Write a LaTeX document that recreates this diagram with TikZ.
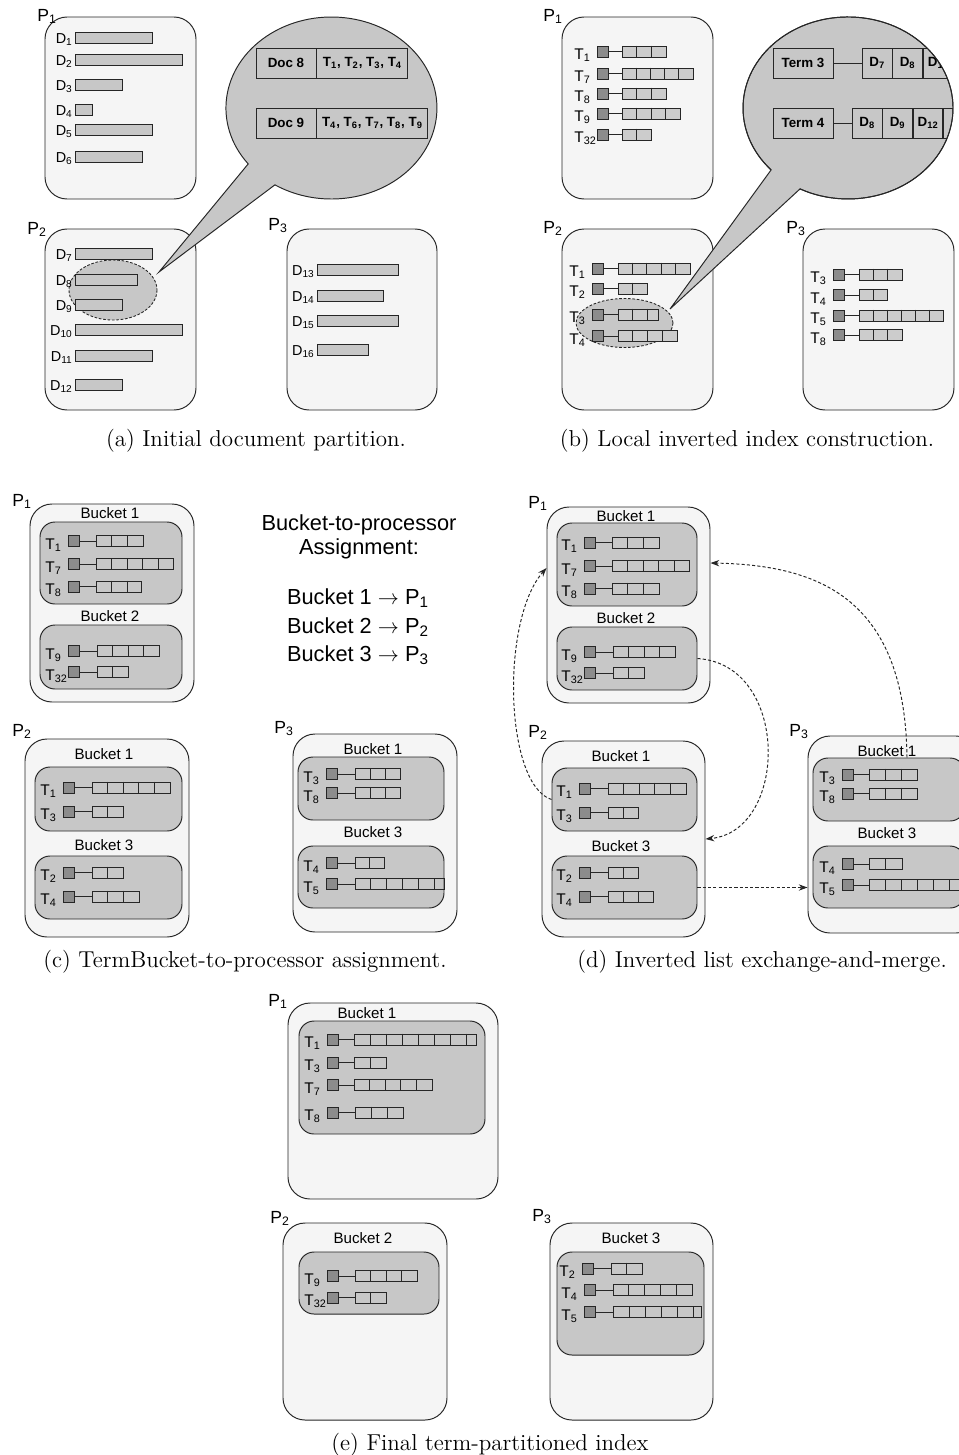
\documentclass[tikz,border=0pt]{standalone}
\usepackage{fontspec}
\newfontfamily\hv{Liberation Sans}
\usetikzlibrary{fit,arrows.meta}

\def\px{0.02cm}

\tikzset{
  proc/.style={draw=black!85, fill=black!4, line width=0.55pt, rounded corners=0.44cm, inner sep=0pt},
  bucket/.style={draw=black!85, fill=black!22, line width=0.55pt, rounded corners=0.3cm, inner sep=0pt},
  docbar/.style={draw=black!85, fill=black!22, line width=0.55pt},
  termhead/.style={draw=black!85, fill=black!45, line width=0.55pt, minimum size=11*\px, inner sep=0pt},
  postlist/.style={draw=black!85, line width=0.5pt, minimum height=11*\px, inner sep=0pt},
  cellline/.style={draw=black!85, line width=0.5pt},
  plabel/.style={font=\hv\fontsize{10}{11}\selectfont, anchor=base west, inner sep=0pt},
  tlabel/.style={font=\hv\fontsize{8.8}{10}\selectfont, anchor=base west, inner sep=0pt},
  dlabel/.style={font=\hv\fontsize{8.2}{9}\selectfont, anchor=base east, inner sep=0pt},
  blabel/.style={font=\hv\fontsize{8.6}{9}\selectfont, inner sep=0pt},
  tabcell/.style={draw=black!85, line width=0.55pt, font=\hv\bfseries\fontsize{7.6}{9}\selectfont, minimum height=30*\px, inner sep=0pt},
  bubble/.style={draw=black!85, fill=black!22, line width=0.55pt},
  focus/.style={draw=black!85, fill=black!22, line width=0.5pt, dash pattern=on 1.5pt off 1pt},
  xfer/.style={draw=black!85, line width=0.55pt, dash pattern=on 1.8pt off 1.2pt, -{Stealth[length=5pt,width=3.6pt]}},
  assign/.style={font=\hv\fontsize{12.4}{14}\selectfont, anchor=base, inner sep=0pt},
  capt/.style={font=\fontsize{13.1}{15}\selectfont, anchor=base, inner sep=0pt},
}

% processor label: x, baseline y, index
\newcommand{\proclabel}[3]{\node[plabel] (p#3) at (#1,#2) {P\textsubscript{#3}};}
% document bar: index, left x, top y, right x
\newcommand{\docrow}[4]{%
  \draw[docbar] (#2,#3) rectangle (#4,#3+11);
  \node[dlabel] (d#1) at (#2-2,#3+11) {D\textsubscript{#1}};}
% term row: index, square x, centre y, list x, list length, cell width, list fill
\newcommand{\termrow}[7]{%
  \node[tlabel] (tl#1) at (#2-23,#3+8) {T\textsubscript{#1}};
  \node[termhead] (th#1) at (#2+5.5,#3) {};
  \node[postlist, fill=#7, minimum width=#5*\px, anchor=west] (tp#1) at (#4,#3) {};
  \draw[cellline] (th#1.east) -- (tp#1.west);
  \pgfmathtruncatemacro\ncell{(#5-1)/#6}%
  \foreach \k in {1,...,\ncell}
    \draw[cellline] ([xshift=\k*#6*\px]tp#1.north west) -- ([xshift=\k*#6*\px]tp#1.south west);
}

\begin{document}
\begin{tikzpicture}[x=0.02cm, y=-0.02cm]
\fill[white] (0,0) rectangle (959,1455);
\useasboundingbox (0,0) rectangle (959,1455);

% (a) initial document partition
\node[proc, fit={(45,17) (196,199)}] (a1) {};
\node[proc, fit={(45,229) (196,410)}] (a2) {};
\node[proc, fit={(287,229) (437,410)}] (a3) {};
\proclabel{37}{21}{1}
\proclabel{27}{234}{2}
\proclabel{268}{230}{3}
\draw[focus] (113,290) ellipse [x radius=44, y radius=30];
\docrow{1}{75}{32}{152}
\docrow{2}{75}{54}{182}
\docrow{3}{75}{79}{122}
\docrow{4}{75}{104}{92}
\docrow{5}{75}{124}{152}
\docrow{6}{75}{151}{142}
\docrow{7}{75}{248}{152}
\docrow{8}{75}{274}{137}
\docrow{9}{75}{299}{122}
\docrow{10}{75}{324}{182}
\docrow{11}{75}{350}{152}
\docrow{12}{75}{379}{122}
\docrow{13}{317}{264}{398}
\docrow{14}{317}{290}{383}
\docrow{15}{317}{315}{398}
\docrow{16}{317}{344}{368}
\draw[bubble] (248.2,163.9) arc[start angle=142.1, end angle=482.4, x radius=105.5, y radius=91] -- (159,272) -- cycle;
\node[tabcell, minimum width=60*\px] (doc8) at (286,63) {Doc 8};
\node[tabcell, minimum width=91*\px, anchor=west] (doc8t) at (doc8.east) {T\textsubscript{1}, T\textsubscript{2}, T\textsubscript{3}, T\textsubscript{4}};
\node[tabcell, minimum width=60*\px] (doc9) at (286,123) {Doc 9};
\node[tabcell, minimum width=111*\px, anchor=west] (doc9t) at (doc9.east) {T\textsubscript{4}, T\textsubscript{6}, T\textsubscript{7}, T\textsubscript{8}, T\textsubscript{9}};
\node[capt] (capa) at (256,446) {(a) Initial document partition.};

% (b) local inverted index construction
\node[proc, fit={(562,17) (713,199)}] (b1) {};
\node[proc, fit={(562,229) (713,410)}] (b2) {};
\node[proc, fit={(803,229) (954,410)}] (b3) {};
\proclabel{543}{21}{1}
\proclabel{543}{233}{2}
\proclabel{786}{233}{3}
\termrow{1}{597}{51.5}{622}{44}{14.5}{black!20}
\termrow{7}{597}{73.5}{622}{71}{14.2}{black!20}
\termrow{8}{597}{93.5}{622}{44}{14.5}{black!20}
\termrow{9}{597}{113.5}{622}{58}{14.5}{black!20}
\termrow{32}{597}{134.5}{622}{29}{14.5}{black!20}
\draw[focus] (624.5,323) ellipse [x radius=48.5, y radius=24.5];
\termrow{1}{592}{268.5}{618}{72}{14.4}{black!20}
\termrow{2}{592}{288.5}{618}{29}{14.5}{black!20}
\termrow{3}{592}{314.5}{618}{40}{14.5}{black!20}
\termrow{4}{592}{336}{618}{59}{14.75}{black!20}
\termrow{3}{833}{274.5}{859}{43}{14.3}{black!20}
\termrow{4}{833}{295}{859}{28}{14}{black!20}
\termrow{5}{833}{315.5}{859}{84}{14}{black!20}
\termrow{8}{833}{335}{859}{43}{14.3}{black!20}
\draw[bubble] (771.1,169.9) arc[start angle=137.1, end angle=477.2, x radius=105, y radius=91] -- (670,309) -- cycle;
\begin{scope}
  \clip (848,108) ellipse [x radius=105, y radius=91];
  \node[tabcell, minimum width=60*\px] (term3) at (803,63) {Term 3};
  \node[tabcell, minimum width=29.5*\px, anchor=west] (t3a) at (862,63) {D\textsubscript{7}};
  \node[tabcell, minimum width=29.5*\px, anchor=west] (t3b) at (t3a.east) {D\textsubscript{8}};
  \node[tabcell, minimum width=29.5*\px, anchor=west] (t3c) at (t3b.east) {D\textsubscript{11}};
  \draw[cellline] (term3.east) -- (t3a.west);
  \node[tabcell, minimum width=60*\px] (term4) at (803,123) {Term 4};
  \node[tabcell, minimum width=29.5*\px, anchor=west] (t4a) at (852,123) {D\textsubscript{8}};
  \node[tabcell, minimum width=29.5*\px, anchor=west] (t4b) at (t4a.east) {D\textsubscript{9}};
  \node[tabcell, minimum width=29.5*\px, anchor=west] (t4c) at (t4b.east) {D\textsubscript{12}};
  \node[tabcell, minimum width=29.5*\px, anchor=west] (t4d) at (t4c.east) {};
  \draw[cellline] (term4.east) -- (t4a.west);
\end{scope}
\draw[draw=black!85, line width=0.55pt] (771.1,169.9) arc[start angle=137.1, end angle=477.2, x radius=105, y radius=91];
\node[capt] (capb) at (747,446) {(b) Local inverted index construction.};

% (c) bucket-to-processor assignment
\node[proc, fit={(30,504) (194,702)}] (c1) {};
\node[bucket, fit={(40,522) (182,604)}] (c1b1) {};
\node[blabel] (c1l1) at (110,513) {Bucket 1};
\node[bucket, fit={(40,625) (182,689)}] (c1b2) {};
\node[blabel] (c1l2) at (110,616) {Bucket 2};
\proclabel{12}{506}{1}
\termrow{1}{68}{541}{96}{47}{15.5}{none}
\termrow{7}{68}{564}{96}{77}{15.5}{none}
\termrow{8}{68}{586.5}{96}{45}{15.5}{none}
\termrow{9}{68}{651}{97}{62}{15.5}{none}
\termrow{32}{68}{672}{97}{31}{15.5}{none}
\node[proc, fit={(25,739) (189,937)}] (c2) {};
\node[bucket, fit={(35,767) (182,831)}] (c2b1) {};
\node[blabel] (c2l1) at (104,754) {Bucket 1};
\node[bucket, fit={(35,856) (182,919)}] (c2b3) {};
\node[blabel] (c2l3) at (104,845) {Bucket 3};
\proclabel{12}{736}{2}
\termrow{1}{63}{787.5}{92}{78}{15.6}{none}
\termrow{3}{63}{811.5}{92}{31}{15.6}{none}
\termrow{2}{63}{872.5}{92}{31}{15.6}{none}
\termrow{4}{63}{896.5}{92}{47}{15.6}{none}
\node[proc, fit={(293,734) (457,932)}] (c3) {};
\node[bucket, fit={(298,757) (444,820)}] (c3b1) {};
\node[blabel] (c3l1) at (373,749) {Bucket 1};
\node[bucket, fit={(298,846) (444,908)}] (c3b3) {};
\node[blabel] (c3l3) at (373,832) {Bucket 3};
\proclabel{274}{733}{3}
\termrow{3}{326}{774}{355}{45}{15}{none}
\termrow{8}{326}{793}{355}{45}{15}{none}
\termrow{4}{326}{863}{355}{29}{14.5}{none}
\termrow{5}{326}{884}{355}{89}{15.8}{none}
\node[assign] (ttl1) at (359,530) {Bucket-to-processor};
\node[assign] (ttl2) at (359,554) {Assignment:};
\node[assign] (as1) at (358,604) {Bucket 1 $\rightarrow$ P\textsubscript{1}};
\node[assign] (as2) at (358,633) {Bucket 2 $\rightarrow$ P\textsubscript{2}};
\node[assign] (as3) at (358,661.5) {Bucket 3 $\rightarrow$ P\textsubscript{3}};
\node[capt] (capc) at (245,967) {(c) TermBucket-to-processor assignment.};

% (d) inverted list exchange-and-merge
\node[proc, fit={(547,507) (710,703)}] (d1) {};
\node[bucket, fit={(557,523) (697,606)}] (d1b1) {};
\node[blabel] (d1l1) at (626,516) {Bucket 1};
\node[bucket, fit={(557,627) (697,690)}] (d1b2) {};
\node[blabel] (d1l2) at (626,618) {Bucket 2};
\proclabel{528}{508}{1}
\termrow{1}{584}{542.5}{612}{47}{15.5}{none}
\termrow{7}{584}{566}{612}{77}{15.5}{none}
\termrow{8}{584}{588.5}{612}{47}{15.5}{none}
\termrow{9}{584}{652}{613}{62}{15.5}{none}
\termrow{32}{584}{673}{613}{31}{15.5}{none}
\node[proc, fit={(542,741) (705,937)}] (d2) {};
\node[bucket, fit={(552,768) (697,831)}] (d2b1) {};
\node[blabel] (d2l1) at (621,756) {Bucket 1};
\node[bucket, fit={(552,856) (697,919)}] (d2b3) {};
\node[blabel] (d2l3) at (621,846) {Bucket 3};
\proclabel{528}{737}{2}
\termrow{1}{579}{788.5}{608}{78}{15.6}{none}
\termrow{3}{579}{812.5}{608}{30}{15}{none}
\termrow{2}{579}{872.5}{608}{30}{15}{none}
\termrow{4}{579}{896.5}{608}{45}{15}{none}
\node[proc, fit={(808,736) (978,933)}] (d3) {};
\node[bucket, fit={(813,758) (965,821)}] (d3b1) {};
\node[blabel] (d3l1) at (887,751) {Bucket 1};
\node[bucket, fit={(813,846) (965,908)}] (d3b3) {};
\node[blabel] (d3l3) at (887,833) {Bucket 3};
\proclabel{789}{736}{3}
\termrow{3}{842}{774.5}{869}{48}{16}{none}
\termrow{8}{842}{793.5}{869}{48}{16}{none}
\termrow{4}{842}{864}{869}{33}{16.5}{none}
\termrow{5}{842}{885}{869}{100}{16}{none}
\draw[xfer] (d2b1.west) .. controls +(-47,-15) and +(-46,52) .. ([yshift=37*\px]d1.west);
\draw[xfer] ([xshift=18*\px]d3b1.north) .. controls +(-2,-158) and +(110,2) .. ([yshift=42*\px]d1.east);
\draw[xfer] (d1b2.east) .. controls +(93,6) and +(83,-8) .. (d2.east);
\draw[xfer] (d2b3.east) -- (d2b3.east -| d3.west);
\node[capt] (capd) at (762,967) {(d) Inverted list exchange-and-merge.};

% (e) final term-partitioned index
\node[proc, fit={(288,1003) (498,1199)}] (e1) {};
\node[bucket, fit={(299,1021) (485,1134)}] (e1b1) {};
\node[blabel] (e1l1) at (367,1013) {Bucket 1};
\proclabel{268}{1006}{1}
\termrow{1}{327}{1039.5}{354}{122}{16}{none}
\termrow{3}{327}{1062.5}{354}{32}{16}{none}
\termrow{7}{327}{1085}{354}{78}{15.6}{none}
\termrow{8}{327}{1112.5}{355}{48}{16}{none}
\node[proc, fit={(283,1223) (447,1420)}] (e2) {};
\node[bucket, fit={(299,1252) (439,1314)}] (e2b2) {};
\node[blabel] (e2l2) at (363,1238) {Bucket 2};
\proclabel{270}{1223}{2}
\termrow{9}{327}{1276}{355}{62}{15.5}{none}
\termrow{32}{327}{1297.5}{355}{31}{15.5}{none}
\node[proc, fit={(550,1223) (713,1420)}] (e3) {};
\node[bucket, fit={(557,1252) (704,1355)}] (e3b3) {};
\node[blabel] (e3l3) at (631,1238) {Bucket 3};
\proclabel{532}{1221}{3}
\termrow{2}{582}{1268.5}{611}{31}{15.5}{none}
\termrow{4}{584}{1290}{613}{79}{15.8}{none}
\termrow{5}{584}{1312}{613}{88}{16}{none}
\node[capt] (cape) at (490,1450) {(e) Final term-partitioned index};
\end{tikzpicture}
\end{document}
